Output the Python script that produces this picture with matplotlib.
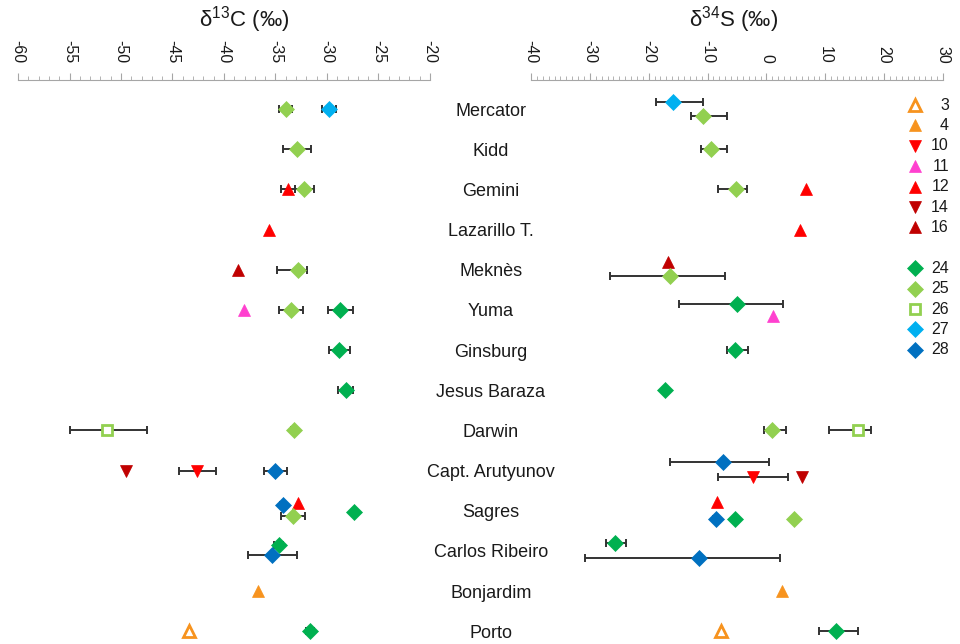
#!/usr/bin/env python3

# Isotope plot: d13C and d34S per site, markers by code, error bars where measured

import matplotlib
matplotlib.use("Agg")
import matplotlib.pyplot as plt
from matplotlib.ticker import MultipleLocator

plt.rcParams['font.family'] = ['Liberation Sans', 'DejaVu Sans']
plt.rcParams['mathtext.fontset'] = 'custom'
plt.rcParams['mathtext.rm'] = 'Liberation Sans'
plt.rcParams['axes.unicode_minus'] = False

sites = ["Mercator", "Kidd", "Gemini", "Lazarillo T.", "Meknès", "Yuma", "Ginsburg",
         "Jesus Baraza", "Darwin", "Capt. Arutyunov", "Sagres", "Carlos Ribeiro",
         "Bonjardim", "Porto"]

# d13C values (err 0 = no error bar)
c_site = ["Mercator", "Mercator", "Kidd", "Gemini", "Gemini", "Lazarillo T.", "Meknès", "Meknès",
          "Yuma", "Yuma", "Yuma", "Ginsburg", "Jesus Baraza", "Darwin", "Darwin",
          "Capt. Arutyunov", "Capt. Arutyunov", "Capt. Arutyunov",
          "Sagres", "Sagres", "Sagres", "Sagres", "Carlos Ribeiro", "Carlos Ribeiro",
          "Bonjardim", "Porto", "Porto"]
c_code = ["25", "27", "25", "12", "25", "12", "16", "25",
          "11", "25", "24", "24", "24", "26", "25",
          "14", "10", "28",
          "28", "12", "25", "24", "24", "28",
          "4", "3", "24"]
c_val = [-34.0, -29.8, -32.9, -33.8, -32.2, -35.6, -38.6, -32.8,
         -38.1, -33.5, -28.7, -28.8, -28.2, -51.4, -33.2,
         -49.5, -42.6, -35.0,
         -34.3, -32.85, -33.3, -27.4, -34.7, -35.3,
         -36.7, -43.4, -31.65]
c_err_lo = [0.65, 0.65, 1.35, 0.7, 0.9, 0, 0, 2.1,
            0, 1.17, 1.23, 1.05, 0.7, 3.6, 0.3,
            0, 1.8, 1.1,
            0.3, 0, 1.2, 0, 0.4, 2.35,
            0, 0, 0.4]
c_err_hi = [0.65, 0.65, 1.35, 0.7, 0.9, 0, 0, 0.9,
            0, 1.17, 1.23, 1.05, 0.7, 3.9, 0.3,
            0, 1.8, 1.1,
            0.3, 0, 1.2, 0, 0.4, 2.35,
            0, 0, 0.4]

# d34S values
s_site = ["Mercator", "Mercator", "Kidd", "Gemini", "Gemini", "Lazarillo T.", "Meknès", "Meknès",
          "Yuma", "Yuma", "Ginsburg", "Jesus Baraza", "Darwin", "Darwin",
          "Capt. Arutyunov", "Capt. Arutyunov", "Capt. Arutyunov",
          "Sagres", "Sagres", "Sagres", "Sagres", "Carlos Ribeiro", "Carlos Ribeiro",
          "Bonjardim", "Porto", "Porto"]
s_code = ["27", "25", "25", "25", "12", "12", "16", "25",
          "24", "11", "24", "24", "25", "26",
          "28", "10", "14",
          "12", "28", "24", "25", "24", "28",
          "4", "3", "24"]
s_val = [-15.9, -10.7, -9.4, -5.2, 6.7, 5.7, -16.7, -16.4,
         -4.95, 1.2, -5.3, -17.3, 0.94, 15.5,
         -7.4, -2.2, 6.1,
         -8.45, -8.5, -5.3, 4.6, -25.7, -11.5,
         2.6, -7.7, 11.9]
s_err_lo = [2.8, 2.2, 1.8, 3.1, 0, 0, 0, 10.1,
            9.95, 0, 1.45, 0, 1.34, 4.9,
            9.0, 6.0, 0,
            0, 0.5, 0, 0, 1.6, 19.3,
            0, 0, 3.0]
s_err_hi = [5.1, 3.95, 2.65, 1.95, 0, 0, 0, 9.4,
            7.85, 0, 2.2, 0, 2.36, 2.2,
            7.9, 5.9, 0,
            0, 0.5, 0, 0, 1.8, 13.75,
            0, 0, 3.7]

legend_codes = ["3", "4", "10", "11", "12", "14", "16", None, "24", "25", "26", "27", "28"]

# vertical shift inside a row (row units) so overlapping points stay readable
c_shift = [0, 0, 0, 0, 0, 0, 0, 0,
           0, 0, 0, 0, 0, 0, 0,
           0, 0, 0,
           -0.15, -0.19, 0.13, 0.03, -0.15, 0.1,
           0, 0, 0]
s_shift = [-0.17, 0.17, 0, 0, 0, 0, -0.18, 0.16,
           -0.14, 0.16, 0, 0, 0, 0,
           -0.21, 0.15, 0.15,
           -0.22, 0.2, 0.2, 0.2, -0.19, 0.17,
           0, 0, 0]

# marker, colour, open?
styles = {
    "3":  ("^", "#F7931E", True),
    "4":  ("^", "#F7931E", False),
    "10": ("v", "#FF0000", False),
    "11": ("^", "#FF40CF", False),
    "12": ("^", "#FF0000", False),
    "14": ("v", "#C00000", False),
    "16": ("^", "#C00000", False),
    "24": ("D", "#00B050", False),
    "25": ("D", "#92D050", False),
    "26": ("s", "#92D050", True),
    "27": ("D", "#00B0F0", False),
    "28": ("D", "#0070C0", False),
}

W, H = 960, 644
AXIS_Y = 80          # pixel row of the top axis lines
ROW0, ROW_STEP = 109, 40.17


def marker_kw(code):
    m, col, hollow = styles[code]
    size = 8.5 if m == "D" else (7.5 if m == "s" else 9)
    if hollow:
        return dict(marker=m, ms=size - 1, mfc="white", mec=col, mew=2)
    return dict(marker=m, ms=size, mfc=col, mec=col, mew=0.5)


def draw_panel(ax, site_l, code_l, val_l, lo_l, hi_l, shift_l, xlim, major, title, title_x):
    for s, c, v, lo, hi, sh in zip(site_l, code_l, val_l, lo_l, hi_l, shift_l):
        y = sites.index(s) + sh
        if lo or hi:
            ax.errorbar([v], [y], xerr=[[lo], [hi]], fmt="none", ecolor="#333333",
                        elinewidth=1.4, capsize=3, capthick=1.4, zorder=2)
        ax.plot([v], [y], linestyle="none", zorder=3, clip_on=False, **marker_kw(c))

    ax.set_xlim(*xlim)
    ax.set_ylim((H - ROW0) / ROW_STEP, (AXIS_Y - ROW0) / ROW_STEP)
    ax.xaxis.tick_top()
    ax.xaxis.set_major_locator(MultipleLocator(major))
    ax.xaxis.set_minor_locator(MultipleLocator(1))
    ax.tick_params(axis="x", which="major", direction="out", length=5, width=0.8,
                   color="#A6A6A6", labelsize=11.5, labelcolor="#1a1a1a", pad=7,
                   labelrotation=270)
    ax.tick_params(axis="x", which="minor", direction="out", length=3, width=0.6, color="#A6A6A6")
    ax.set_yticks([])
    for side in ["bottom", "left", "right"]:
        ax.spines[side].set_visible(False)
    ax.spines["top"].set_color("#A6A6A6")
    ax.spines["top"].set_linewidth(0.8)
    ax.patch.set_alpha(0)
    fig.text(title_x / W, 1 - 20 / H, title, fontsize=16, ha="center", va="center", color="#1a1a1a")


fig = plt.figure(figsize=(W / 100, H / 100), dpi=100)

ax_c = fig.add_axes([18 / W, 0, (430 - 18) / W, 1 - AXIS_Y / H])
draw_panel(ax_c, c_site, c_code, c_val, c_err_lo, c_err_hi, c_shift, (-60, -20), 5,
           r"δ$^{13}$C (‰)", 244)

ax_s = fig.add_axes([531 / W, 0, (943 - 531) / W, 1 - AXIS_Y / H])
draw_panel(ax_s, s_site, s_code, s_val, s_err_lo, s_err_hi, s_shift, (-40, 30), 10,
           r"δ$^{34}$S (‰)", 734)

# site names between the panels and the legend, drawn on a pixel overlay
over = fig.add_axes([0, 0, 1, 1])
over.set_xlim(0, W)
over.set_ylim(H, 0)
over.axis("off")
over.patch.set_alpha(0)

for i, s in enumerate(sites):
    over.text(491, ROW0 + 2 + i * ROW_STEP, s, fontsize=13, ha="center", va="center", color="#1a1a1a")

for i, code in enumerate(legend_codes):
    if code is None:
        continue
    y = 105 + i * 20.4
    over.plot([915], [y], linestyle="none", **marker_kw(code))
    over.text(949, y, code, fontsize=11.5, ha="right", va="center", color="#1a1a1a")

fig.savefig("out.png", dpi=100)
